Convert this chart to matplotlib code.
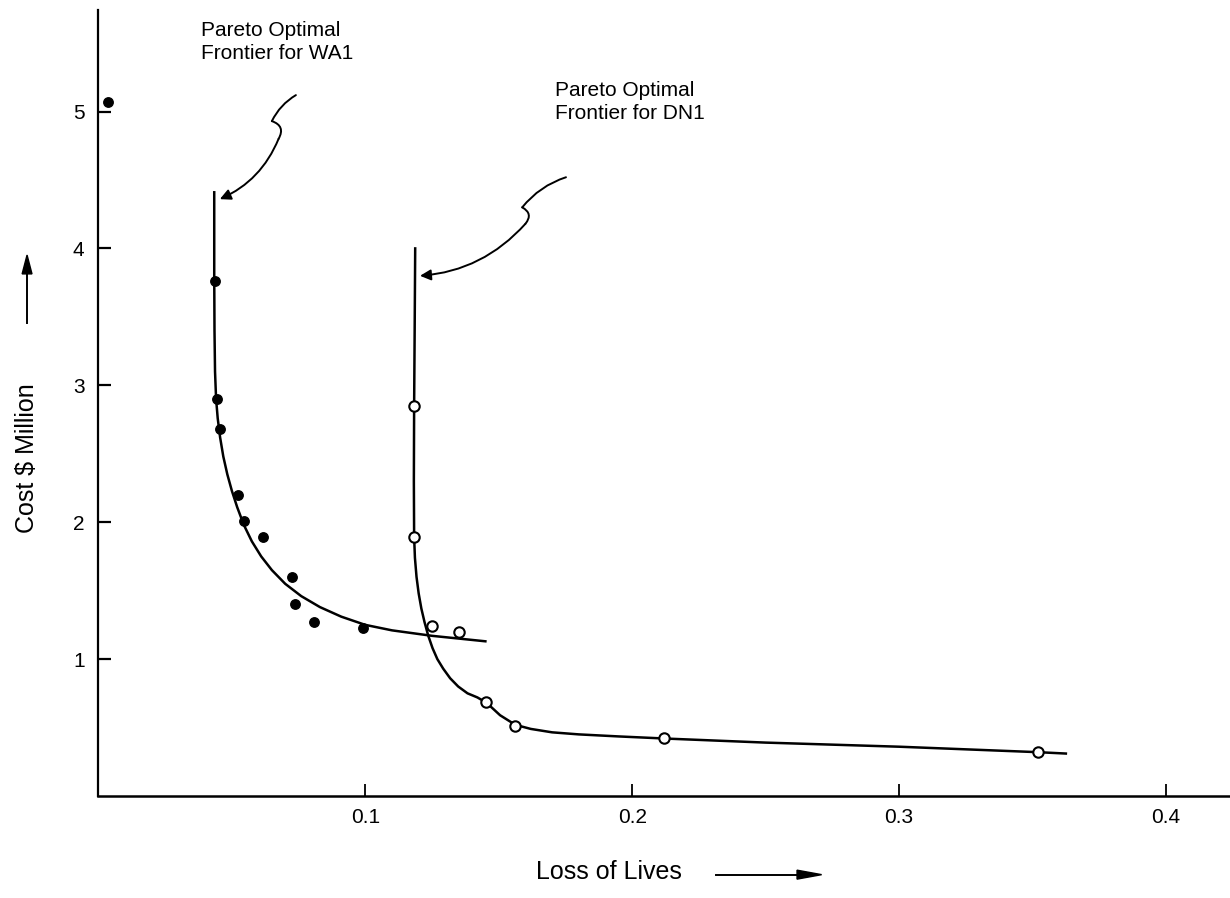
import numpy as np
import matplotlib.pyplot as plt

plt.rcParams['font.family'] = ['Liberation Sans', 'DejaVu Sans']

# WA1 points (filled) and fitted frontier
wa1_x = [0.0037, 0.0438, 0.0446, 0.0457, 0.0524, 0.0547, 0.0618, 0.0727, 0.0738, 0.0809, 0.0993]
wa1_y = [5.07, 3.76, 2.90, 2.68, 2.20, 2.01, 1.89, 1.60, 1.40, 1.27, 1.23]
wa1_curve_x = [0.0434, 0.0434, 0.0435, 0.0437, 0.0441, 0.0447, 0.0456, 0.0468, 0.0483, 0.0500,
               0.0520, 0.0545, 0.0575, 0.0610, 0.0650, 0.0700, 0.0760, 0.0830,
               0.0910, 0.1000, 0.1100, 0.1250, 0.1450]
wa1_curve_y = [4.41, 3.80, 3.40, 3.10, 2.90, 2.76, 2.62, 2.48, 2.35, 2.23,
               2.11, 1.98, 1.86, 1.75, 1.65, 1.55, 1.46, 1.38,
               1.31, 1.25, 1.21, 1.17, 1.13]

# DN1 points (open) and fitted frontier
dn1_x = [0.1184, 0.1184, 0.1251, 0.1352, 0.1453, 0.1562, 0.2120, 0.3521]
dn1_y = [2.85, 1.89, 1.24, 1.20, 0.69, 0.51, 0.42, 0.32]
dn1_curve_x = [0.1187, 0.1185, 0.1183, 0.1182, 0.1183, 0.1186, 0.1192, 0.1200, 0.1210,
               0.1222, 0.1236, 0.1252, 0.1270, 0.1292, 0.1318, 0.1348, 0.1383,
               0.1420, 0.1455, 0.1505, 0.1562, 0.1620, 0.1700, 0.1800, 0.1950,
               0.2120, 0.2500, 0.3000, 0.3521, 0.3625]
dn1_curve_y = [4.00, 3.40, 2.85, 2.30, 1.89, 1.74, 1.60, 1.48, 1.37,
               1.27, 1.17, 1.08, 1.00, 0.93, 0.86, 0.80, 0.75,
               0.72, 0.68, 0.59, 0.52, 0.49, 0.465, 0.45, 0.435,
               0.42, 0.39, 0.36, 0.32, 0.31]

xticks = [0.1, 0.2, 0.3, 0.4]
xticklabels = ['0.1', '0.2', '0.3', '0.4']
yticks = [1, 2, 3, 4, 5]

fig = plt.figure(figsize=(12.3, 8.98), dpi=100)
ax = fig.add_axes([0.080, 0.1136, 0.920, 0.875])

ax.plot(wa1_curve_x, wa1_curve_y, color='black', lw=1.8, zorder=2)
ax.plot(dn1_curve_x, dn1_curve_y, color='black', lw=1.8, zorder=2)
ax.plot(wa1_x, wa1_y, 'o', color='black', ms=6.8, zorder=3, clip_on=False)
ax.plot(dn1_x, dn1_y, 'o', mfc='white', mec='black', mew=1.5, ms=7.5, zorder=3)

ax.set_xlim(0, 0.424)
ax.set_ylim(0, 5.74)
for s in ['top', 'right']:
    ax.spines[s].set_visible(False)
ax.spines['left'].set_linewidth(1.6)
ax.spines['bottom'].set_linewidth(1.8)

ax.set_xticks(xticks)
ax.set_xticklabels(xticklabels)
ax.set_yticks(yticks)
ax.tick_params(axis='x', direction='in', length=9, width=1.3, pad=9, labelsize=15)
ax.tick_params(axis='y', direction='in', length=9, width=1.6, pad=10, labelsize=15)

# annotation arrows: wavy lead-in, then curved arrow to the frontier
lead = dict(arrowstyle='-', color='black', lw=1.4, shrinkA=0, shrinkB=0)
def wavy_arrow(p0, p1, p2, tip):
    ax.annotate('', xy=p1, xytext=p0,
                arrowprops=dict(lead, connectionstyle='arc3,rad=0.15'))
    ax.annotate('', xy=p2, xytext=p1,
                arrowprops=dict(lead, connectionstyle='arc3,rad=-0.6'))
    ax.annotate('', xy=tip, xytext=p2,
                arrowprops=dict(arrowstyle='-|>', color='black', lw=1.4,
                                mutation_scale=16, shrinkA=0, shrinkB=0,
                                connectionstyle='arc3,rad=-0.2'))

wavy_arrow((0.0740, 5.12), (0.0650, 4.93), (0.0675, 4.80), (0.0455, 4.36))
wavy_arrow((0.1752, 4.52), (0.1588, 4.30), (0.1600, 4.18), (0.1205, 3.80))

ax.text(0.0385, 5.66, 'Pareto Optimal\nFrontier for WA1', fontsize=15,
        va='top', ha='left', linespacing=1.25)
ax.text(0.1710, 5.22, 'Pareto Optimal\nFrontier for DN1', fontsize=15,
        va='top', ha='left', linespacing=1.25)

# axis labels with arrows
fig.text(0.022, 0.49, 'Cost $ Million', rotation=90, fontsize=18,
         ha='center', va='center')
fig.add_artist(plt.Line2D([0.022, 0.022], [0.64, 0.70], color='black', lw=1.4))
fig.patches.append(plt.Polygon([[0.018, 0.695], [0.026, 0.695], [0.022, 0.716]],
                               closed=True, color='black', transform=fig.transFigure))
fig.text(0.495, 0.029, 'Loss of Lives', fontsize=18, ha='center', va='center')
fig.add_artist(plt.Line2D([0.582, 0.655], [0.026, 0.026], color='black', lw=1.4))
fig.patches.append(plt.Polygon([[0.648, 0.021], [0.648, 0.031], [0.668, 0.026]],
                               closed=True, color='black', transform=fig.transFigure))

fig.savefig('out.png', dpi=100)
